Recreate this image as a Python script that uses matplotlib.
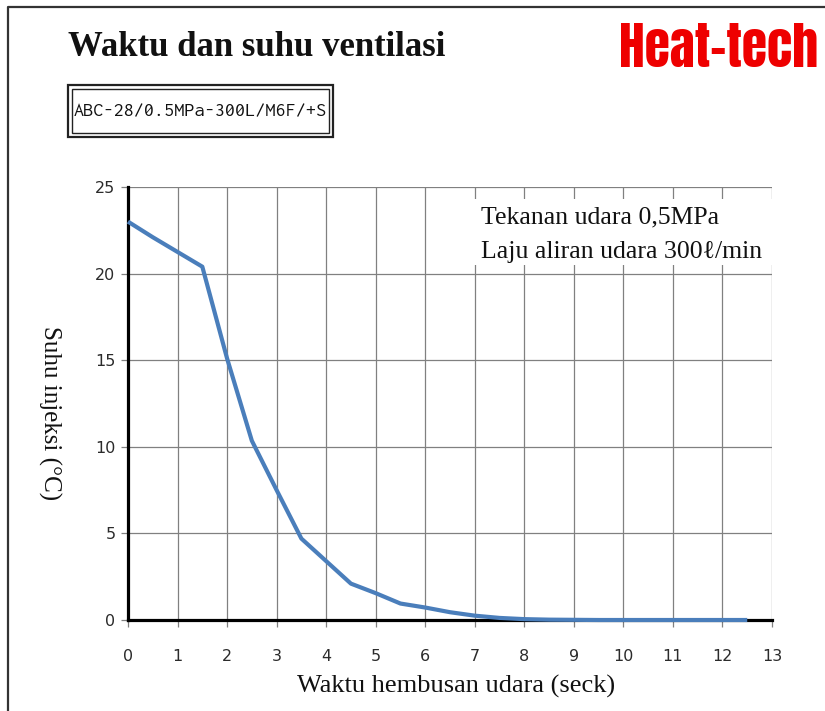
import os
import matplotlib
matplotlib.use("Agg")
import matplotlib.pyplot as plt
from matplotlib.patches import Rectangle
from matplotlib.lines import Line2D
from matplotlib import font_manager
from matplotlib.font_manager import FontProperties

# ---- data ----
time_s = [0, 0.5, 1, 1.5, 2, 2.5, 3, 3.5, 4, 4.5, 5, 5.5, 6, 6.5, 7, 7.5, 8,
          8.5, 9, 9.5, 10, 10.5, 11, 11.5, 12, 12.5]
temp_c = [23.0, 22.1, 21.25, 20.4, 15.1, 10.35, 7.5, 4.7, 3.4, 2.1, 1.55, 0.95,
          0.72, 0.45, 0.25, 0.12, 0.05, 0.02, 0.01, 0.0, 0.0, 0.0, 0.0, 0.0, 0.0, 0.0]
x_ticks = list(range(0, 14))
y_ticks = [0, 5, 10, 15, 20, 25]

title = "Waktu dan suhu ventilasi"
brand = "Heat-tech"
model = "ABC-28/0.5MPa-300L/M6F/+S"
note_lines = ["Tekanan udara 0,5MPa", "Laju aliran udara 300\u2113/min"]
xlabel = "Waktu hembusan udara (seck)"
ylabel = "Suhu injeksi (\u00b0C)"

W, H = 825, 711
fig = plt.figure(figsize=(W / 100, H / 100), dpi=100)
fig.patch.set_facecolor("white")

def fx(px):
    return px / W

def fy(py):
    return 1 - py / H

def find_font(keys):
    files = [(os.path.basename(f.fname).lower().replace("_", "").replace(" ", ""), f.fname)
             for f in font_manager.fontManager.ttflist]
    for key in keys:
        for base, path in files:
            if base.startswith(key) and "italic" not in base:
                return path
    return None

ax = fig.add_axes([fx(128), fy(620), fx(772) - fx(128), fy(187) - fy(620)])
ax.set_xlim(0, 13)
ax.set_ylim(0, 25)
ax.set_xticks(x_ticks)
ax.set_yticks(y_ticks)
ax.grid(True, color="#808080", linewidth=0.9, zorder=0)
ax.set_axisbelow(True)

for s in ["top", "right"]:
    ax.spines[s].set_visible(False)
for s in ["left", "bottom"]:
    ax.spines[s].set_color("black")
    ax.spines[s].set_linewidth(2.3)

ax.tick_params(axis="both", colors="#808080", labelcolor="#2b2b2b",
               labelsize=11.5, length=5, width=0.9, direction="out")
ax.tick_params(axis="x", pad=16)
ax.tick_params(axis="y", pad=4)
for lab in ax.get_xticklabels() + ax.get_yticklabels():
    lab.set_family("DejaVu Sans")

# white box behind the note
ax.add_patch(Rectangle((6.9, 20.5), 13 - 6.9, 24.3 - 20.5, facecolor="white",
                       edgecolor="none", zorder=1.5))

ax.plot(time_s, temp_c, color="#4A7EBB", linewidth=3.0, zorder=3,
        solid_capstyle="butt", clip_on=False)

serif = ["Liberation Serif", "DejaVu Serif"]
ax.text(7.12, 22.92, note_lines[0], fontsize=18.5, family=serif, color="#111111",
        va="baseline", ha="left", zorder=4)
ax.text(7.12, 20.9, note_lines[1], fontsize=18.5, family=serif, color="#111111",
        va="baseline", ha="left", zorder=4)

fig.text(fx(456), fy(686), xlabel, fontsize=19, family=serif, ha="center",
         va="center", color="#111111")
fig.text(fx(50), fy(413), ylabel, fontsize=18, family=serif, ha="center",
         va="center", rotation=270, color="#111111")

# title
fig.text(fx(68), fy(47), title, fontsize=25, family=serif, weight="bold",
         ha="left", va="center", color="#111111")

# brand: condensed heavy sans face
bpath = find_font(["anton-regular", "anton", "oswald-bold", "oswald[", "oswald",
                   "bebasneue", "fjallaone", "asapcondensed-black",
                   "robotocondensed-bold", "archivonarrow-bold", "archivonarrow["])
if bpath:
    bprop = FontProperties(fname=bpath, size=37)
else:
    bprop = FontProperties(family="DejaVu Sans", weight="bold", size=36)
fig.text(fx(818), fy(48), brand, fontproperties=bprop,
         ha="right", va="center", color="#EE0000")

# model box (double border)
fig.add_artist(Rectangle((fx(68), fy(137)), fx(333) - fx(68), fy(85) - fy(137),
                         transform=fig.transFigure, facecolor="white",
                         edgecolor="#222222", linewidth=1.6))
fig.add_artist(Rectangle((fx(72), fy(133)), fx(329) - fx(72), fy(89) - fy(133),
                         transform=fig.transFigure, facecolor="none",
                         edgecolor="#222222", linewidth=1.0))
mpath = find_font(["inconsolata-regular", "inconsolata[", "inconsolata"])
if mpath:
    mprop = FontProperties(fname=mpath, size=14.5)
else:
    mprop = FontProperties(family="DejaVu Sans Mono", size=12)
fig.text(fx(200), fy(111), model, fontproperties=mprop,
         ha="center", va="center", color="#111111")

# outer frame (left and top edges)
fig.add_artist(Line2D([fx(8), fx(8), 1.0], [0.0, fy(7), fy(7)],
                      transform=fig.transFigure, color="#333333", linewidth=1.6))

fig.savefig("out.png", dpi=100)
